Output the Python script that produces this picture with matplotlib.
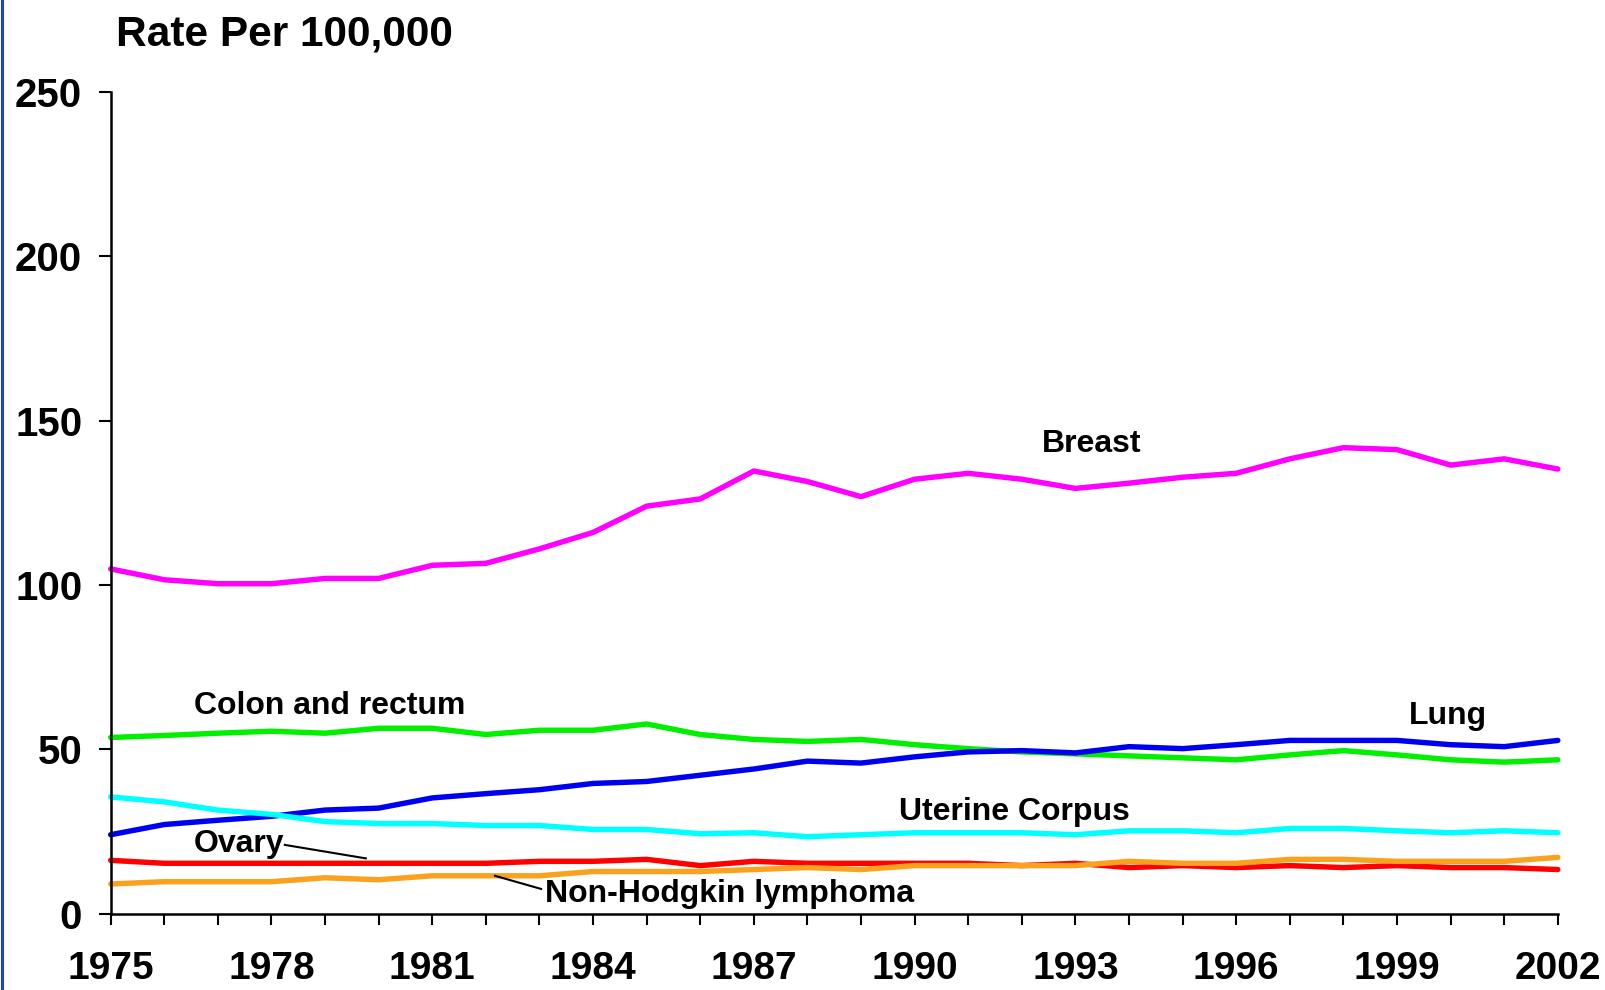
import numpy as np
import matplotlib
matplotlib.use("Agg")
import matplotlib.pyplot as plt
from matplotlib.lines import Line2D

plt.rcParams.update({'font.family': ['Liberation Sans', 'DejaVu Sans'], 'font.weight': 'bold'})

years = list(range(1975, 2003))

breast = [104.9, 101.6, 100.4, 100.4, 102.0, 102.0, 106.0, 106.6, 111.0, 116.0,
          124.0, 126.2, 134.7, 131.5, 126.9, 132.2, 134.0, 132.2, 129.4, 131.0,
          132.8, 134.0, 138.4, 141.8, 141.2, 136.5, 138.4, 135.3]
colon = [53.6, 54.2, 54.9, 55.5, 54.9, 56.4, 56.4, 54.5, 55.8, 55.8,
         57.7, 54.5, 53.0, 52.4, 53.0, 51.4, 50.2, 49.2, 48.6, 48.0,
         47.4, 46.8, 48.3, 49.6, 48.3, 46.8, 46.1, 46.8]
lung = [24.0, 27.1, 28.4, 29.6, 31.5, 32.1, 35.2, 36.5, 37.7, 39.6,
        40.2, 42.1, 44.0, 46.4, 45.8, 47.7, 49.2, 49.6, 48.9, 50.8,
        50.2, 51.4, 52.7, 52.7, 52.7, 51.4, 50.8, 52.7]
uterine = [35.5, 34.0, 31.5, 30.2, 28.0, 27.4, 27.4, 26.8, 26.8, 25.6,
           25.6, 24.3, 24.6, 23.4, 24.0, 24.6, 24.6, 24.6, 24.0, 25.2,
           25.2, 24.6, 25.9, 25.9, 25.2, 24.6, 25.2, 24.6]
ovary = [16.2, 15.3, 15.3, 15.3, 15.3, 15.3, 15.3, 15.3, 15.9, 15.9,
         16.5, 14.6, 15.9, 15.3, 15.3, 15.3, 15.3, 14.6, 15.3, 14.0,
         14.6, 14.0, 14.6, 14.0, 14.6, 14.0, 14.0, 13.4]
nhl = [9.0, 9.7, 9.7, 9.7, 10.9, 10.3, 11.5, 11.5, 11.5, 12.8,
       12.8, 12.8, 13.4, 14.0, 13.4, 14.6, 14.6, 14.6, 14.6, 15.9,
       15.3, 15.3, 16.5, 16.5, 15.9, 15.9, 15.9, 17.1]

series = [
    (breast, '#FF00FF'),
    (colon, '#00F000'),
    (lung, '#0000F0'),
    (uterine, '#00FFFF'),
    (ovary, '#FF0000'),
    (nhl, '#FAA21E'),
]

fig = plt.figure(figsize=(16.06, 9.9), dpi=100)
ax = fig.add_axes([0.0689, 0.0772, 0.9011, 0.8297])

for vals, c in series:
    ax.plot(years, vals, color=c, linewidth=3.9, solid_capstyle='round',
            solid_joinstyle='round', clip_on=False)

ax.set_xlim(1975, 2002)
ax.set_ylim(0, 250)
ax.set_xticks(years)
ax.set_xticklabels([str(y) if (y - 1975) % 3 == 0 else '' for y in years],
                   fontsize=28, fontweight='bold')
ax.set_yticks([0, 50, 100, 150, 200, 250])
ax.set_yticklabels(['0', '50', '100', '150', '200', '250'], fontsize=29, fontweight='bold')
ax.tick_params(axis='x', direction='out', length=8, width=1.5, pad=19)
ax.tick_params(axis='y', direction='out', length=8.5, width=1.5, pad=12)

for s in ['top', 'right']:
    ax.spines[s].set_visible(False)
for s in ['left', 'bottom']:
    ax.spines[s].set_linewidth(1.8)

fig.text(0.0722, 0.965, 'Rate Per 100,000', fontsize=30.5, fontweight='bold', va='center')

lab = dict(fontsize=23, fontweight='bold', color='black')
ax.text(1993.3, 142.9, 'Breast', ha='center', va='center', **lab)
ax.text(1976.55, 63.2, 'Colon and rectum', ha='left', va='center', **lab)
ax.text(1999.95, 60.0, 'Lung', ha='center', va='center', **lab)
ax.text(1989.7, 31.0, 'Uterine Corpus', ha='left', va='center', **lab)
ax.text(1976.55, 21.1, 'Ovary', ha='left', va='center', **lab)
ax.text(1983.1, 6.1, 'Non-Hodgkin lymphoma', ha='left', va='center', **lab)

ax.plot([1978.25, 1979.76], [20.9, 16.8], color='black', linewidth=1.5)
ax.plot([1982.17, 1983.03], [11.5, 7.5], color='black', linewidth=1.5)

# thin blue frame line on the left edge
fig.add_artist(Line2D([0.001, 0.001], [0, 1], color='#1F45B0', linewidth=2.2,
                      transform=fig.transFigure))

fig.savefig('out.png', dpi=100, facecolor='white')
